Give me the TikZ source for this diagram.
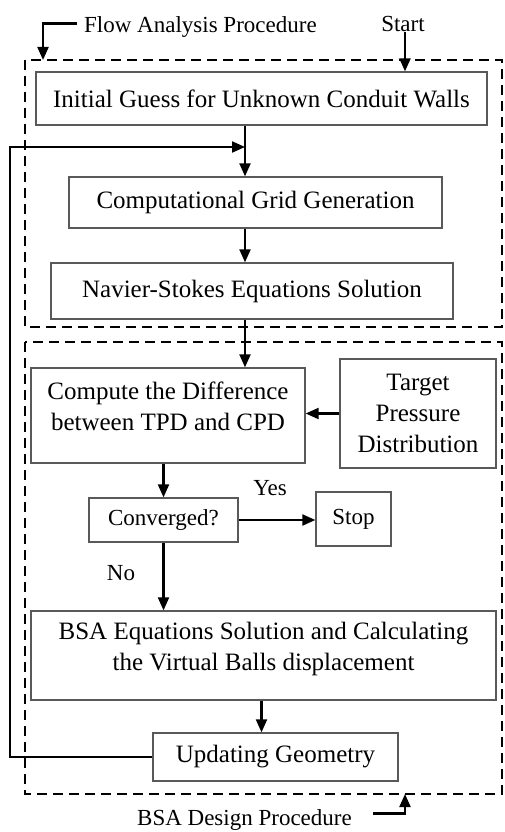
\documentclass[tikz,border=0pt]{standalone}
\usepackage{fontspec}
\setmainfont{Liberation Serif}
\usetikzlibrary{arrows.meta}

\begin{document}
\begin{tikzpicture}[x=1pt,y=-1pt,
  blk/.style={draw=black!65, line width=1.3pt, inner sep=0pt, align=center, font=\fontsize{25}{31}\selectfont},
  lbl/.style={inner sep=0pt, font=\fontsize{23}{28}\selectfont},
  arr/.style={line width=2.1pt, -{Triangle[length=13pt,width=11pt]}},
  frame/.style={line width=2pt, dash pattern=on 10pt off 6pt}]
  \useasboundingbox (0,0) rectangle (504,832);
  % dashed frames: flow analysis (top), BSA design (bottom)
  \draw[frame] (25,60) rectangle (502,327);
  \draw[frame] (25,342) rectangle (502,794);
  % frame labels
  \node[lbl, anchor=base west] (flowlbl) at (84,33) {Flow Analysis Procedure};
  \node[lbl, anchor=base] (start) at (403,32) {Start};
  \node[lbl, anchor=base] (bsalbl) at (244.5,825) {BSA Design Procedure};
  \coordinate (fa) at (43,60);
  \coordinate (ba) at (405,794);
  \coordinate (jn) at (245,147);
  \coordinate (lp) at (10,0);
  % blocks
  \node[blk, minimum width=451pt, minimum height=53pt] (init) at (261.5,98.5) {Initial Guess for Unknown Conduit Walls};
  \node[blk, minimum width=373pt, minimum height=51pt] (grid) at (255.5,202.5) {Computational Grid Generation};
  \node[blk, minimum width=402pt, minimum height=56pt] (ns) at (252,291) {Navier-Stokes Equations Solution};
  \node[blk, minimum width=274pt, minimum height=95pt] (diff) at (168,415.5) {Compute the Difference\\between TPD and CPD\\[-12pt]};
  \node[blk, minimum width=156pt, minimum height=109pt] (target) at (418,413.5) {Target\\Pressure\\Distribution};
  \node[blk, minimum width=149pt, minimum height=44pt, font=\fontsize{23}{28}\selectfont] (conv) at (163.5,520) {Converged?};
  \node[blk, minimum width=75pt, minimum height=54pt, font=\fontsize{23}{28}\selectfont] (stop) at (353.5,519) {Stop};
  \node[blk, minimum width=465pt, minimum height=89pt] (bsa) at (263.5,655.5) {BSA Equations Solution and Calculating\\the Virtual Balls displacement\\[-12pt]};
  \node[blk, minimum width=245pt, minimum height=48pt] (upd) at (275.5,757) {Updating Geometry};
  \node[lbl] (yes) at (270,488) {Yes};
  \node[lbl] (no) at (121,573) {No};
  % connectors
  \draw[arr] (flowlbl.west) ++(-7,-4) -| (fa);
  \draw[arr] (start.south) ++(2,0) -- (init.north -| 405,0);
  \draw[arr] (bsalbl.east) ++(21,-6) -| (ba);
  \draw[arr] (init.south -| jn) -- (grid.north -| jn);
  \draw[arr] (grid.south -| jn) -- (ns.north -| jn);
  \draw[arr] (ns.south -| jn) -- (diff.north -| jn);
  \draw[arr] (target.west) -- (target.west -| diff.east);
  \draw[arr] (diff.south -| conv.north) -- (conv.north);
  \draw[arr] (conv.east) -- (conv.east -| stop.west);
  \draw[arr] (conv.south) -- (conv.south |- bsa.north);
  \draw[arr] ([xshift=-14pt]upd.north |- bsa.south) -- ([xshift=-14pt]upd.north);
  \draw[arr] (upd.west) -- (upd.west -| lp) |- (jn);
\end{tikzpicture}
\end{document}
